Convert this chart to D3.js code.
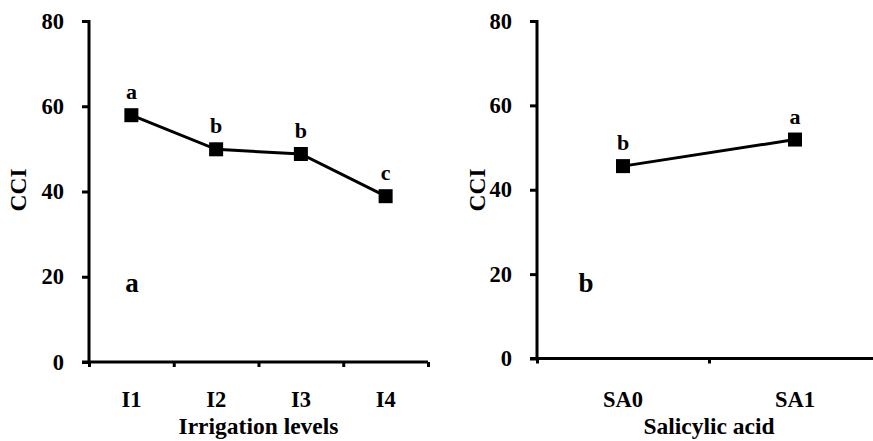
<!DOCTYPE html>
<html>
<head>
<meta charset="utf-8">
<script src="https://cdn.jsdelivr.net/npm/d3@7"></script>
<style>
  body { margin: 0; background: #fff; }
  svg text { font-family: "Liberation Serif", "Times New Roman", serif; font-weight: bold; fill: #000; }
</style>
</head>
<body>
<svg id="chart" width="873" height="441"></svg>
<script>
// data
var irrigationLevels = ["I1", "I2", "I3", "I4"];
var irrigationCCI = [57.9, 49.9, 48.8, 38.9];
var irrigationLetters = ["a", "b", "b", "c"];

var salicylicLevels = ["SA0", "SA1"];
var salicylicCCI = [45.6, 51.9];
var salicylicLetters = ["b", "a"];

var yTicks = [0, 20, 40, 60, 80];

var svg = d3.select("#chart");

function drawPanel(opt) {
  var g = svg.append("g");

  var x = d3.scaleBand().domain(opt.cats).range([opt.x0, opt.x1]);
  var xi = d3.scaleLinear().domain([0, opt.cats.length]).range([opt.x0, opt.x1]);
  var y = d3.scaleLinear().domain([0, 80]).range([opt.y0, opt.y1]);

  // y axis
  var ya = g.append("g")
      .attr("transform", "translate(" + opt.x0 + ",0)")
      .call(d3.axisLeft(y).tickValues(yTicks).tickSize(7).tickSizeOuter(0).tickPadding(18));
  ya.select(".domain").attr("stroke-width", 3).attr("d", "M0," + (opt.y1 - 1) + "V" + opt.y0);
  ya.selectAll(".tick line").attr("stroke-width", 3);
  ya.selectAll(".tick text").style("font-size", "22.5px");

  // x axis : boundary tick marks
  var xa = g.append("g")
      .attr("transform", "translate(0," + opt.y0 + ")")
      .call(d3.axisBottom(xi).ticks(opt.cats.length).tickFormat("").tickSize(5).tickSizeOuter(0));
  xa.select(".domain").attr("stroke-width", 3).attr("d", "M" + (opt.x0 - 7) + ",0H" + opt.x1);
  xa.selectAll(".tick line").attr("stroke-width", 3);

  // x axis : category labels
  var xl = g.append("g")
      .attr("transform", "translate(0," + opt.y0 + ")")
      .call(d3.axisBottom(x).tickSize(0));
  xl.select(".domain").remove();
  xl.selectAll(".tick text")
      .attr("y", 407 - opt.y0)
      .attr("dy", 0)
      .style("font-size", "22.5px");

  // axis titles
  g.append("text")
      .attr("x", (opt.x0 + opt.x1) / 2)
      .attr("y", 434)
      .attr("text-anchor", "middle")
      .style("font-size", "23.5px")
      .text(opt.xTitle);

  g.append("text")
      .attr("transform", "translate(" + opt.yTitleX + "," + 190 + ") rotate(-90)")
      .attr("text-anchor", "middle")
      .style("font-size", "23.5px")
      .text("CCI");

  // line + markers
  var pts = opt.cats.map(function(c, i) { return { c: c, v: opt.vals[i], l: opt.letters[i] }; });
  var line = d3.line()
      .x(function(d) { return x(d.c) + x.bandwidth() / 2; })
      .y(function(d) { return y(d.v); });

  g.append("path")
      .datum(pts)
      .attr("d", line)
      .attr("fill", "none")
      .attr("stroke", "#000")
      .attr("stroke-width", 3);

  g.selectAll("rect.pt")
      .data(pts)
      .enter().append("rect")
      .attr("class", "pt")
      .attr("x", function(d) { return x(d.c) + x.bandwidth() / 2 - 7; })
      .attr("y", function(d) { return y(d.v) - 7; })
      .attr("width", 14)
      .attr("height", 14)
      .attr("fill", "#000");

  g.selectAll("text.sig")
      .data(pts)
      .enter().append("text")
      .attr("class", "sig")
      .attr("x", function(d) { return x(d.c) + x.bandwidth() / 2; })
      .attr("y", function(d) { return y(d.v) - 16; })
      .attr("text-anchor", "middle")
      .style("font-size", "22px")
      .text(function(d) { return d.l; });

  // panel letter
  g.append("text")
      .attr("x", opt.panelX)
      .attr("y", 292)
      .attr("text-anchor", "middle")
      .style("font-size", "27px")
      .text(opt.panel);
}

drawPanel({
  cats: irrigationLevels, vals: irrigationCCI, letters: irrigationLetters,
  x0: 89, x1: 428, y0: 362, y1: 21,
  xTitle: "Irrigation levels", yTitleX: 26, panel: "a", panelX: 132
});

drawPanel({
  cats: salicylicLevels, vals: salicylicCCI, letters: salicylicLetters,
  x0: 537, x1: 881, y0: 358.5, y1: 21,
  xTitle: "Salicylic acid", yTitleX: 485, panel: "b", panelX: 586
});
</script>
</body>
</html>
